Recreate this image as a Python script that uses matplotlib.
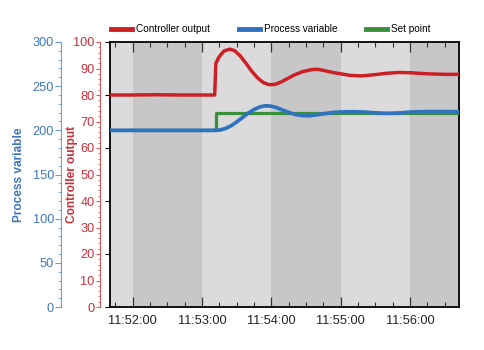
import matplotlib
matplotlib.use("Agg")
import matplotlib.pyplot as plt
import matplotlib.dates as mdates
from matplotlib.lines import Line2D
import pandas as pd

plt.rcParams['font.family'] = ['Liberation Sans', 'DejaVu Sans']

# ---- data ----
co_times = ["11:51:40", "11:52:00", "11:52:20", "11:52:40", "11:53:00", "11:53:11",
            "11:53:12", "11:53:15", "11:53:19", "11:53:24", "11:53:28", "11:53:33",
            "11:53:38", "11:53:43", "11:53:48", "11:53:53", "11:53:58", "11:54:03",
            "11:54:08", "11:54:14", "11:54:20", "11:54:27", "11:54:35", "11:54:40",
            "11:54:46", "11:54:53", "11:55:00", "11:55:08", "11:55:18", "11:55:28",
            "11:55:40", "11:55:50", "11:56:00", "11:56:15", "11:56:30", "11:56:43"]
co_values = [80.0, 80.0, 80.1, 80.0, 80.0, 80.0,
             92.0, 94.5, 96.6, 97.3, 96.8, 94.8,
             92.0, 89.0, 86.5, 84.7, 83.9, 84.0,
             84.8, 86.2, 87.6, 88.8, 89.6, 89.7,
             89.2, 88.5, 88.0, 87.4, 87.2, 87.6,
             88.2, 88.5, 88.4, 88.0, 87.8, 87.8]

pv_times = ["11:51:40", "11:53:12", "11:53:16", "11:53:20", "11:53:25", "11:53:30",
            "11:53:35", "11:53:40", "11:53:45", "11:53:50", "11:53:55", "11:54:00",
            "11:54:05", "11:54:10", "11:54:15", "11:54:20", "11:54:26", "11:54:32",
            "11:54:38", "11:54:45", "11:54:52", "11:55:00", "11:55:10", "11:55:20",
            "11:55:30", "11:55:40", "11:55:50", "11:56:00", "11:56:15", "11:56:30",
            "11:56:43"]
pv_values = [200.0, 200.0, 200.5, 202.0, 205.0, 209.5,
             214.5, 219.5, 223.5, 226.5, 227.8, 227.3,
             225.5, 222.8, 220.3, 218.2, 216.8, 216.5,
             217.3, 218.7, 220.0, 220.8, 221.1, 220.7,
             219.8, 219.2, 219.6, 220.6, 221.2, 221.2,
             221.0]

sp_times = ["11:51:40", "11:53:12", "11:53:12", "11:56:43"]
sp_values = [200.0, 200.0, 220.0, 220.0]

band_edges = ["11:51:40", "11:52:00", "11:53:00", "11:54:00", "11:55:00", "11:56:00", "11:56:43"]
x_range = ["11:51:40.4", "11:56:42.4"]

series_names = ["Controller output", "Process variable", "Set point"]


def to_num(ts):
    return mdates.date2num(pd.to_datetime(["2020-01-01 " + t for t in ts]))


# ---- style ----
RED = "#cc2027"
BLUE = "#2f73bf"
GREEN = "#3a8f3c"
RED_TXT = "#c8303a"
BLUE_TXT = "#3f76b8"
LIGHT = "#dbdbdc"
DARK = "#c7c7c8"

fig = plt.figure(figsize=(4.85, 3.5), dpi=100)
ax = fig.add_axes([110 / 485, 43 / 350, 349 / 485, 265 / 350])

# background bands
edges = to_num(band_edges)
for i in range(len(edges) - 1):
    ax.axvspan(edges[i], edges[i + 1], color=(LIGHT if i % 2 == 0 else DARK), lw=0, zorder=0)

ax.plot(to_num(co_times), co_values, color=RED, lw=2.5, zorder=3, solid_joinstyle='round')
ax.set_ylim(0, 100)
xr = to_num(x_range)
ax.set_xlim(xr[0], xr[1])

ax.xaxis.set_major_locator(mdates.MinuteLocator())
ax.xaxis.set_minor_locator(mdates.SecondLocator(bysecond=[15, 30, 45]))
ax.xaxis.set_major_formatter(mdates.DateFormatter('%H:%M:%S'))
ax.tick_params(axis='x', which='major', direction='in', length=7, width=0.9, top=True,
               labelsize=9.2, pad=6, labelcolor='#222222', color='#333333')
ax.tick_params(axis='x', which='minor', direction='in', length=3.5, width=0.8, top=True,
               color='#333333')
ax.tick_params(axis='y', left=False, labelleft=False, right=False)
for s in ax.spines.values():
    s.set_linewidth(1.3)
    s.set_color('black')

# red axis
axr = ax.twinx()
axr.set_ylim(0, 100)
axr.yaxis.set_ticks_position('left')
axr.yaxis.set_label_position('left')
axr.spines['left'].set_position(('outward', 7))
axr.spines['left'].set_color('#d45a5a')
for k in ['right', 'top', 'bottom']:
    axr.spines[k].set_visible(False)
axr.set_yticks(range(0, 101, 10))
axr.set_yticks(range(0, 101, 2), minor=True)
axr.tick_params(axis='y', which='major', direction='out', length=3.2, width=0.8,
                color='#d45a5a', labelcolor=RED_TXT, labelsize=9.2, pad=1)
axr.tick_params(axis='y', which='minor', direction='out', length=1.8, width=0.6, color='#d45a5a')
axr.set_ylabel("Controller output", color=RED_TXT, fontsize=8.6, fontweight='bold')
axr.yaxis.set_label_coords(-0.093, 0.5)

# blue axis
axb = ax.twinx()
axb.set_ylim(0, 300)
axb.yaxis.set_ticks_position('left')
axb.yaxis.set_label_position('left')
axb.spines['left'].set_position(('outward', 35.3))
axb.spines['left'].set_color('#6d9bd2')
for k in ['right', 'top', 'bottom']:
    axb.spines[k].set_visible(False)
axb.set_yticks(range(0, 301, 50))
axb.set_yticks(range(0, 301, 10), minor=True)
axb.tick_params(axis='y', which='major', direction='out', length=4, width=0.8,
                color='#6d9bd2', labelcolor=BLUE_TXT, labelsize=9.2, pad=1)
axb.tick_params(axis='y', which='minor', direction='out', length=2.2, width=0.6, color='#6d9bd2')
axb.set_ylabel("Process variable", color=BLUE_TXT, fontsize=8.6, fontweight='bold')
axb.yaxis.set_label_coords(-0.243, 0.5)

axb.plot(to_num(sp_times), sp_values, color=GREEN, lw=2.3, zorder=2)
axb.plot(to_num(pv_times), pv_values, color=BLUE, lw=2.7, zorder=3, solid_joinstyle='round')
axb.set_xlim(xr[0], xr[1])
axr.set_xlim(xr[0], xr[1])

handles = [Line2D([], [], color=RED, lw=3.5),
           Line2D([], [], color=BLUE, lw=3.5),
           Line2D([], [], color=GREEN, lw=3.5)]
fig.legend(handles, series_names, loc='lower left', bbox_to_anchor=(111 / 485, 1 - 34 / 350),
           ncol=3, frameon=False, fontsize=7.2, handlelength=2.1, handletextpad=0.45,
           columnspacing=2.8, borderpad=0, borderaxespad=0)

fig.savefig("out.png", dpi=100)
